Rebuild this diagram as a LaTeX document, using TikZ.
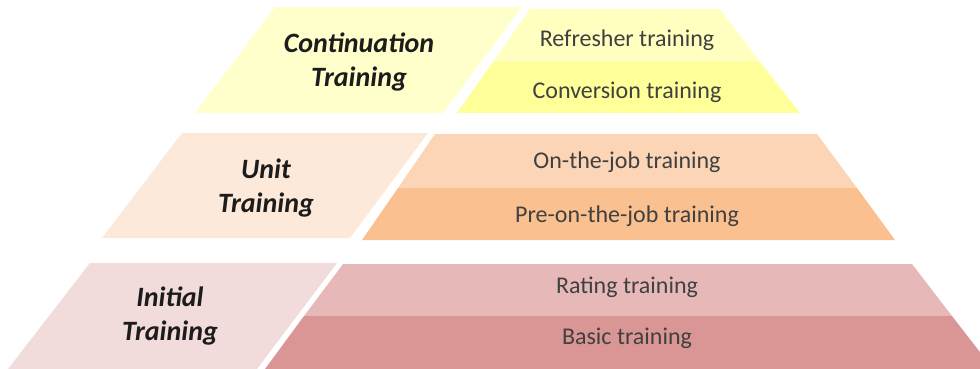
\documentclass[tikz,border=0pt]{standalone}
\usepackage{fontspec}
\setmainfont{Carlito}

% tier fills: pale label panel, lighter upper band, stronger lower band
\definecolor{contPanel}{HTML}{FFFFCC}
\definecolor{contUpper}{HTML}{FFFFC0}
\definecolor{contLower}{HTML}{FFFF99}
\definecolor{unitPanel}{HTML}{FDE9D9}
\definecolor{unitUpper}{HTML}{FBD5B5}
\definecolor{unitLower}{HTML}{FAC090}
\definecolor{initPanel}{HTML}{F2DCDB}
\definecolor{initUpper}{HTML}{E6B9B8}
\definecolor{initLower}{HTML}{D99694}
\definecolor{labelInk}{HTML}{1C1C1C}
\definecolor{itemInk}{HTML}{404040}

\begin{document}
\begin{tikzpicture}[x=1pt,y=-1pt,
  levellabel/.style={font=\fontsize{28}{34}\selectfont\bfseries\itshape,
    text=labelInk, align=center, inner sep=0pt},
  itemlabel/.style={font=\fontsize{24}{29}\selectfont,
    text=itemInk, anchor=base, inner sep=0pt}]
\clip (0,0) rectangle (980,369);

% --- continuation tier ---
\fill[contPanel] (275,7) -- (522,7) -- (443,113) -- (195,113) -- cycle;
\fill[contUpper] (530,9) -- (720,9) -- (760,62) -- (493,62) -- cycle;
\fill[contLower] (493,62) -- (760,62) -- (800,113) -- (457,113) -- cycle;

% --- unit tier ---
\fill[unitPanel] (182,133) -- (428,133) -- (350,238) -- (102,238) -- cycle;
\fill[unitUpper] (435,134) -- (817,134) -- (857,188) -- (398,188) -- cycle;
\fill[unitLower] (398,188) -- (857,188) -- (895,240) -- (362,240) -- cycle;

% --- initial tier ---
\fill[initPanel] (90,263) -- (337,263) -- (257,369) -- (8,369) -- cycle;
\fill[initUpper] (343,264) -- (912,264) -- (952,316) -- (304,316) -- cycle;
\fill[initLower] (304,316) -- (952,316) -- (993,369) -- (265,369) -- cycle;

% --- labels ---
\node[levellabel] (cont) at (359,62) {Continuation\\Training};
\node[itemlabel] (refresher) at (627,47) {Refresher training};
\node[itemlabel] (conversion) at (627,98) {Conversion training};

\node[levellabel] (unit) at (266,188) {Unit\\Training};
\node[itemlabel] (onjob) at (627,168) {On-the-job training};
\node[itemlabel] (preonjob) at (627,222) {Pre-on-the-job training};

\node[levellabel] (initial) at (170,316) {Initial\\Training};
\node[itemlabel] (rating) at (627,293) {Rating training};
\node[itemlabel] (basic) at (627,344) {Basic training};
\end{tikzpicture}
\end{document}
